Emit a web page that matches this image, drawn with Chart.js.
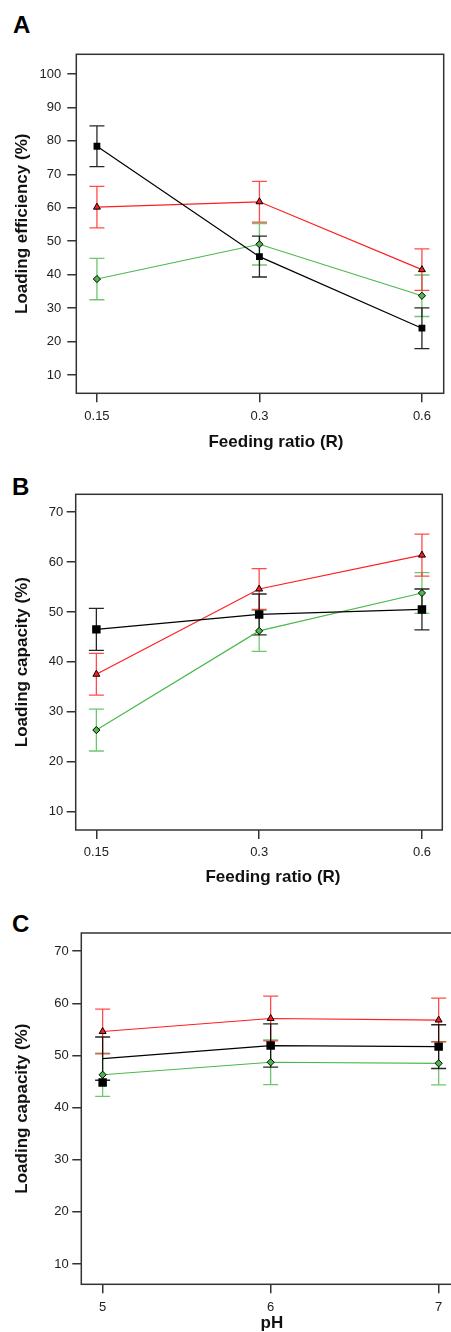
<!DOCTYPE html>
<html>
<head>
<meta charset="utf-8">
<script src="https://cdn.jsdelivr.net/npm/chart.js@4.4.0/dist/chart.umd.min.js"></script>
<style>
  html, body { margin: 0; padding: 0; background: #fff; }
  body { position: relative; width: 451px; height: 1332px; overflow: hidden; }
  .panel { position: absolute; left: 0; }
  .letter {
    position: absolute; font: bold 24px "Liberation Sans", Arial, sans-serif;
    line-height: 24px; color: #000;
  }
</style>
</head>
<body>
<div class="letter" style="left:13px; top:13px;">A</div>
<div class="letter" style="left:12px; top:475px;">B</div>
<div class="letter" style="left:12px; top:912px;">C</div>
<canvas id="chartA" class="panel" width="451" height="460" style="top:0px"></canvas>
<canvas id="chartB" class="panel" width="451" height="440" style="top:460px"></canvas>
<canvas id="chartC" class="panel" width="470" height="450" style="top:900px"></canvas>
<script>
// ---- data ----
const feedingRatios = ['0.15', '0.3', '0.6'];
const phLevels = ['5', '6', '7'];

const yTicksA = [10, 20, 30, 40, 50, 60, 70, 80, 90, 100];
const yTicksBC = [10, 20, 30, 40, 50, 60, 70];

// A: loading efficiency vs feeding ratio
const blackA = [78.4, 45.4, 24.0];
const blackErrA = [6.1, 6.1, 6.1];
const redA = [60.2, 61.8, 41.5];
const redErrA = [6.2, 6.1, 6.2];
const greenA = [38.7, 49.1, 33.7];
const greenErrA = [6.2, 6.2, 6.2];

// B: loading capacity vs feeding ratio
const blackB = [46.5, 49.5, 50.5];
const blackErrB = [4.2, 4.1, 4.1];
const redB = [37.5, 54.6, 61.4];
const redErrB = [4.2, 4.1, 4.2];
const greenB = [26.3, 46.2, 53.8];
const greenErrB = [4.2, 4.1, 4.1];

// C: loading capacity vs pH
const blackC = [49.4, 51.9, 51.7];
const blackErrC = [4.15, 4.15, 4.2];
const blackMarkerC = 44.8; // square at pH 5 sits below the line start
const redC = [54.6, 57.1, 56.8];
const redErrC = [4.3, 4.3, 4.2];
const greenC = [46.3, 48.7, 48.5];
const greenErrC = [4.15, 4.3, 4.15];

const COLORS = {
  black: '#000000',
  red: '#ff1e1e',
  green: '#4cb84c',
  blackErr: 'rgba(0,0,0,0.85)',
  redErr: 'rgba(255,30,30,0.8)',
  greenErr: 'rgba(76,184,76,0.8)',
  axis: '#333333',
  text: '#222222'
};

const FONT = '"Liberation Sans", Arial, Helvetica, sans-serif';
Chart.defaults.font.family = FONT;
Chart.defaults.color = COLORS.text;

function toPoints(values) {
  return values.map((v, i) => ({ x: i, y: v }));
}

// draw vertical error bars with caps, behind the lines
const errorBarPlugin = {
  id: 'errorBars',
  beforeDatasetsDraw(chart) {
    const { ctx, scales: { x, y } } = chart;
    const cap = 7.5;
    // reverse so dataset 0 ends on top, like the lines
    for (let i = chart.data.datasets.length - 1; i >= 0; i--) {
      const ds = chart.data.datasets[i];
      if (!ds.errors) continue;
      ctx.save();
      ctx.strokeStyle = ds.errorColor;
      ctx.lineWidth = 1.3;
      ds.data.forEach((p, j) => {
        const px = x.getPixelForValue(p.x);
        const top = y.getPixelForValue(p.y + ds.errors[j]);
        const bot = y.getPixelForValue(p.y - ds.errors[j]);
        ctx.beginPath();
        ctx.moveTo(px, top);
        ctx.lineTo(px, bot);
        ctx.moveTo(px - cap, top);
        ctx.lineTo(px + cap, top);
        ctx.moveTo(px - cap, bot);
        ctx.lineTo(px + cap, bot);
        ctx.stroke();
      });
      ctx.restore();
    }
  }
};

// box around the plot area
const framePlugin = {
  id: 'frame',
  afterDraw(chart) {
    const { ctx, chartArea: a } = chart;
    ctx.save();
    ctx.strokeStyle = COLORS.axis;
    ctx.lineWidth = 1.5;
    ctx.strokeRect(a.left, a.top, a.right - a.left, a.bottom - a.top);
    ctx.restore();
  }
};

// x axis title, centred a little right of the plot centre as in the figure
const xTitlePlugin = {
  id: 'xTitle',
  afterDraw(chart, args, opts) {
    const { ctx, chartArea: a } = chart;
    ctx.save();
    ctx.font = 'bold 17px ' + FONT;
    ctx.fillStyle = '#111';
    ctx.textAlign = 'center';
    ctx.textBaseline = 'middle';
    ctx.fillText(opts.text, (a.left + a.right) / 2 + opts.shift, chart.height - opts.bottom);
    ctx.restore();
  }
};

function makeSeries(label, values, errors, color, errColor, style, radius) {
  return {
    label: label,
    data: toPoints(values),
    errors: errors,
    errorColor: errColor,
    borderColor: color,
    borderWidth: 1.2,
    pointStyle: style,
    pointRadius: radius,
    pointBackgroundColor: color,
    pointBorderColor: '#000',
    pointBorderWidth: style === 'rect' ? 0 : 1,
    fill: false,
    tension: 0
  };
}

function createPanel(canvasId, p) {
  const ctx = document.getElementById(canvasId).getContext('2d');
  return new Chart(ctx, {
    type: 'line',
    data: { datasets: p.datasets },
    options: {
      responsive: false,
      animation: false,
      layout: { padding: { top: p.padTop, right: p.padRight, left: 0, bottom: 0 } },
      plugins: {
        legend: { display: false },
        tooltip: { enabled: false },
        xTitle: { text: p.xTitle, shift: p.xTitleShift, bottom: p.xTitleBottom }
      },
      scales: {
        x: {
          type: 'linear',
          min: p.xMin,
          max: p.xMax,
          afterBuildTicks: s => { s.ticks = p.xLabels.map((_, i) => ({ value: i })); },
          afterFit: s => { s.height = p.xHeight; },
          ticks: {
            callback: v => p.xLabels[v],
            font: { size: 13 },
            padding: 6,
            maxRotation: 0
          },
          grid: { drawOnChartArea: false, drawTicks: true, tickLength: 9, color: COLORS.axis, lineWidth: 1.5 },
          border: { display: false }
        },
        y: {
          min: p.yMin,
          max: p.yMax,
          afterBuildTicks: s => { s.ticks = p.yTicks.map(v => ({ value: v })); },
          afterFit: s => { s.width = p.yWidth; },
          ticks: { font: { size: 13 }, padding: p.yLabelPad },
          grid: { drawOnChartArea: false, drawTicks: true, tickLength: 9, color: COLORS.axis, lineWidth: 1.5 },
          border: { display: false },
          title: {
            display: true,
            text: p.yTitle,
            font: { size: 17, weight: 'bold' },
            color: '#111',
            padding: { top: 12, bottom: 0 }
          }
        }
      }
    },
    plugins: [errorBarPlugin, framePlugin, xTitlePlugin]
  });
}

createPanel('chartA', {
  xLabels: feedingRatios, yTicks: yTicksA,
  xMin: -0.127, xMax: 2.134, yMin: 4.53, yMax: 105.9,
  padTop: 54.3, padRight: 7.3, yWidth: 76.3, xHeight: 66.7,
  xTitle: 'Feeding ratio (R)', yTitle: 'Loading efficiency (%)',
  xTitleShift: 16, xTitleBottom: 17.3, yLabelPad: 6,
  datasets: [
    makeSeries('Black', blackA, blackErrA, COLORS.black, COLORS.blackErr, 'rect', 4.8),
    makeSeries('Red', redA, redErrA, COLORS.red, COLORS.redErr, 'triangle', 4),
    makeSeries('Green', greenA, greenErrA, COLORS.green, COLORS.greenErr, 'rectRot', 3.6)
  ]
});

createPanel('chartB', {
  xLabels: feedingRatios, yTicks: yTicksBC,
  xMin: -0.127, xMax: 2.125, yMin: 6.25, yMax: 73.6,
  padTop: 34.3, padRight: 8.7, yWidth: 75.7, xHeight: 70,
  xTitle: 'Feeding ratio (R)', yTitle: 'Loading capacity (%)',
  xTitleShift: 14, xTitleBottom: 22.3, yLabelPad: 3.5,
  datasets: [
    makeSeries('Black', blackB, blackErrB, COLORS.black, COLORS.blackErr, 'rect', 6),
    makeSeries('Red', redB, redErrB, COLORS.red, COLORS.redErr, 'triangle', 4),
    makeSeries('Green', greenB, greenErrB, COLORS.green, COLORS.greenErr, 'rectRot', 3.6)
  ]
});

const blackLineC = makeSeries('Black', blackC, blackErrC, COLORS.black, COLORS.blackErr, 'rect', 6);
blackLineC.pointRadius = [0, 6, 6];

createPanel('chartC', {
  xLabels: phLevels, yTicks: yTicksBC,
  xMin: -0.127, xMax: 2.13, yMin: 6.1, yMax: 73.5,
  padTop: 33, padRight: 9.5, yWidth: 81.3, xHeight: 65.7,
  xTitle: 'pH', yTitle: 'Loading capacity (%)',
  xTitleShift: 1, xTitleBottom: 26.7, yLabelPad: 3.5,
  datasets: [
    {
      label: 'Black marker',
      data: [{ x: 0, y: blackMarkerC }],
      showLine: false,
      pointStyle: 'rect',
      pointRadius: 6,
      pointBackgroundColor: COLORS.black,
      pointBorderWidth: 0
    },
    blackLineC,
    makeSeries('Red', redC, redErrC, COLORS.red, COLORS.redErr, 'triangle', 4),
    makeSeries('Green', greenC, greenErrC, COLORS.green, COLORS.greenErr, 'rectRot', 3.6)
  ]
});
</script>
</body>
</html>
